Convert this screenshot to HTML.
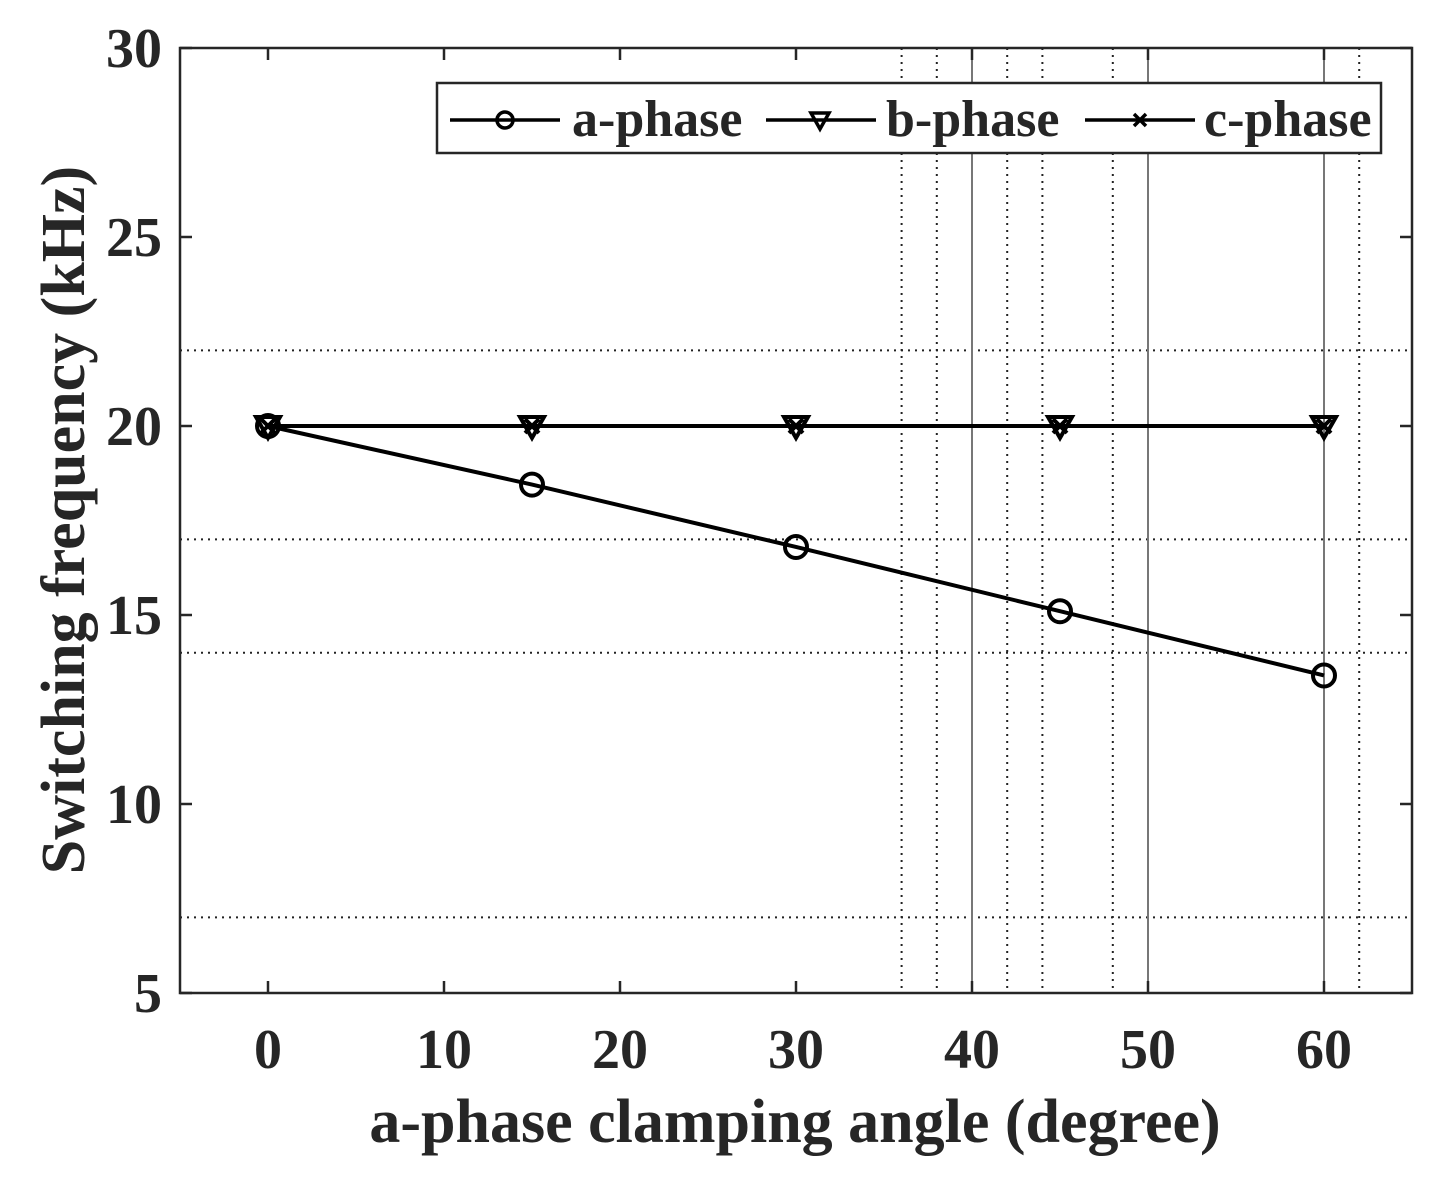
<!DOCTYPE html>
<html><head><meta charset="utf-8"><style>
body{margin:0;background:#fff}
svg text{font-family:"Liberation Serif",serif;font-weight:bold;fill:#262626}
</style></head><body>
<svg id="chart" width="1436" height="1173">
<g id="grid"></g>
<g id="axes"></g>
<g id="series"></g>
<text x="795" y="1142" font-size="62" text-anchor="middle">a-phase clamping angle (degree)</text>
<text transform="translate(84,520) rotate(-90)" font-size="62" text-anchor="middle">Switching frequency (kHz)</text>
<g>
<rect x="437" y="83" width="944" height="70" fill="#fff" stroke="#262626" stroke-width="2.5"/>
<g>
<line x1="450" y1="120" x2="560" y2="120" stroke="#000" stroke-width="3.5"/>
<circle cx="505" cy="120" r="8" fill="none" stroke="#000" stroke-width="3.5"/>
<text x="572" y="136" font-size="52">a-phase</text></g>
<g>
<line x1="766" y1="120" x2="876" y2="120" stroke="#000" stroke-width="3.5"/>
<path d="M811,113 L829,113 L820,129 Z" fill="none" stroke="#000" stroke-width="3.5"/>
<text x="886" y="136" font-size="52">b-phase</text></g>
<g>
<line x1="1085" y1="120" x2="1195" y2="120" stroke="#000" stroke-width="3.5"/>
<path d="M1134,114 L1146,126 M1146,114 L1134,126" stroke="#000" stroke-width="3.5"/>
<text x="1204" y="136" font-size="52">c-phase</text></g>
</g>
</svg>
<script>
const angles=[0,15,30,45,60];
const aPhase=[20,18.45,16.8,15.1,13.4];
const bPhase=[20,20,20,20,20];
const cPhase=[20,20,20,20,20];
const xTicks=[0,10,20,30,40,50,60];
const yTicks=[5,10,15,20,25,30];
const hGrid=[22,17,14,7];
const vGrid=[36,38,42,44,48,62];
const vGridSolid=[40,50,60];
const L=180,R=1412,T=48,B=993,X0=-5,X1=65,Y0=5,Y1=30;
const sx=v=>L+(v-X0)/(X1-X0)*(R-L);
const sy=v=>B-(v-Y0)/(Y1-Y0)*(B-T);
const NS='http://www.w3.org/2000/svg';
function mk(p,t,a){const e=document.createElementNS(NS,t);for(const k in a)e.setAttribute(k,a[k]);p.appendChild(e);return e;}
const g=document.getElementById('grid'),ax=document.getElementById('axes'),s=document.getElementById('series');
hGrid.forEach(v=>{const e=mk(g,'line',{x1:L,x2:R,y1:sy(v),y2:sy(v),stroke:'#222','stroke-width':2,'stroke-dasharray':'2,5'});

});
vGrid.forEach(v=>{const e=mk(g,'line',{x1:sx(v),x2:sx(v),y1:T,y2:B,stroke:'#222','stroke-width':2,'stroke-dasharray':'2,5'});

});
vGridSolid.forEach(v=>{const e=mk(g,'line',{x1:sx(v),x2:sx(v),y1:T,y2:B,stroke:'#777','stroke-width':2});

});
const fr=mk(ax,'rect',{x:L,y:T,width:R-L,height:B-T,fill:'none',stroke:'#262626','stroke-width':2.5});


xTicks.forEach(v=>{const x=sx(v);
mk(ax,'line',{x1:x,x2:x,y1:B,y2:B-12,stroke:'#262626','stroke-width':2.5});
mk(ax,'line',{x1:x,x2:x,y1:T,y2:T+12,stroke:'#262626','stroke-width':2.5});
const t=mk(ax,'text',{x:x,y:B+75,'font-size':56,'text-anchor':'middle'});t.textContent=v;

});
yTicks.forEach(v=>{const y=sy(v);
mk(ax,'line',{x1:L,x2:L+12,y1:y,y2:y,stroke:'#262626','stroke-width':2.5});
mk(ax,'line',{x1:R,x2:R-12,y1:y,y2:y,stroke:'#262626','stroke-width':2.5});
const t=mk(ax,'text',{x:L-18,y:y+19,'font-size':56,'text-anchor':'end'});t.textContent=v;

});
function line(vals,name){const p=mk(s,'polyline',{points:angles.map((a,i)=>sx(a)+','+sy(vals[i])).join(' '),fill:'none',stroke:'#000','stroke-width':4});

}
line(aPhase,'a-phase-line');line(bPhase,'b-phase-line');line(cPhase,'c-phase-line');
angles.forEach((a,i)=>{const x=sx(a);
let y=sy(aPhase[i]);const c=mk(s,'circle',{cx:x,cy:y,r:11,fill:'none',stroke:'#000','stroke-width':4});


y=sy(bPhase[i]);const tr=mk(s,'path',{d:`M${x-12},${y-9} L${x+12},${y-9} L${x},${y+12} Z`,fill:'none',stroke:'#000','stroke-width':4});


y=sy(cPhase[i]);const cx=mk(s,'path',{d:`M${x-7},${y-7} L${x+7},${y+7} M${x+7},${y-7} L${x-7},${y+7}`,stroke:'#000','stroke-width':4});

});
</script>
</body></html>
